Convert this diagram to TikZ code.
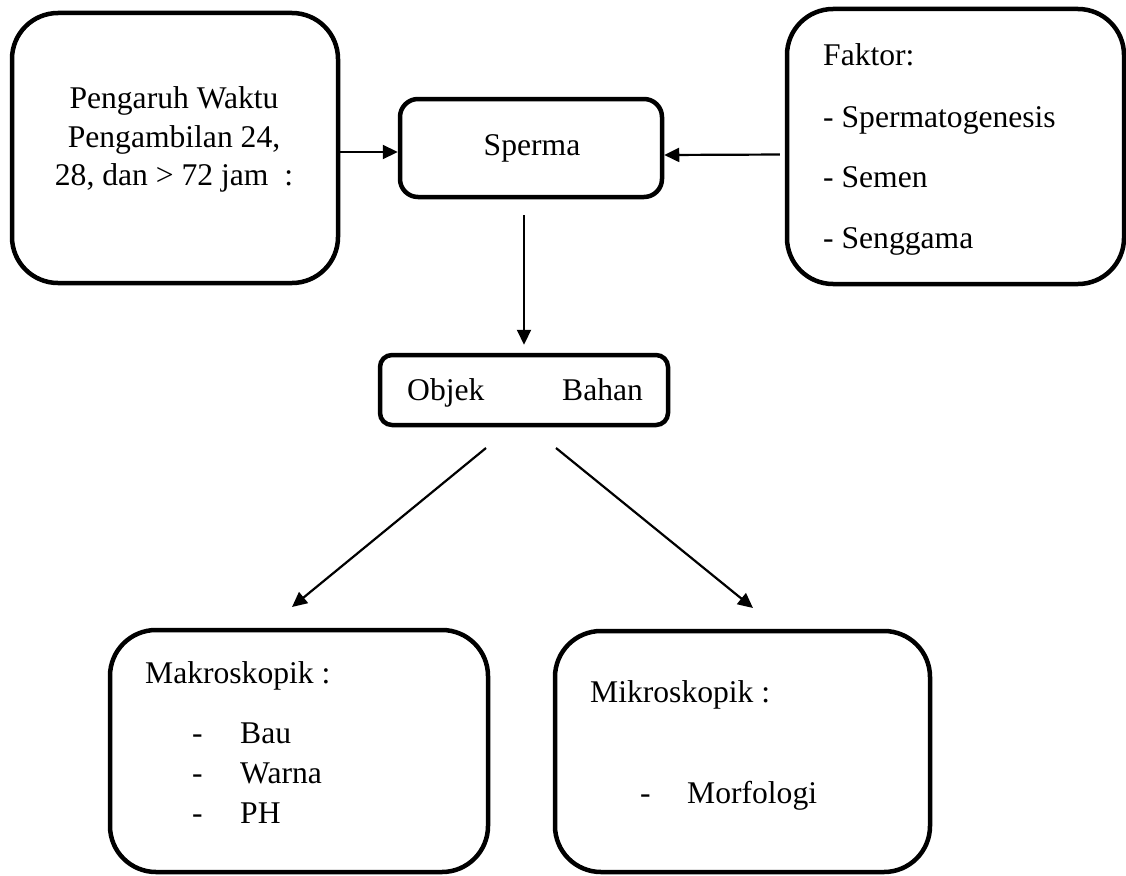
\documentclass[tikz,border=0pt]{standalone}
\usepackage{fontspec}
\setmainfont{Liberation Serif}
\usetikzlibrary{arrows.meta}
\begin{document}
\begin{tikzpicture}[x=1pt,y=-1pt,
  bigbox/.style={draw, line width=4.5pt, rounded corners=46pt, inner sep=0pt},
  smallbox/.style={draw, line width=4.5pt, inner sep=0pt},
  txt/.style={inner sep=0pt, font=\fontsize{31.6}{38}\selectfont},
  arr/.style={line width=2.2pt, -{Triangle[length=15pt,width=14pt]}}]
\useasboundingbox (0,0) rectangle (1126,875);

% boxes
\node[bigbox, minimum width=326pt, minimum height=270pt] (pengaruh) at (175,148) {};
\node[smallbox, rounded corners=18pt, minimum width=262pt, minimum height=98pt] (sperma) at (531,148) {};
\node[bigbox, minimum width=337pt, minimum height=275pt] (faktor) at (955.5,146.5) {};
\node[smallbox, rounded corners=12pt, minimum width=288pt, minimum height=70pt] (objek) at (524,390) {};
\node[bigbox, minimum width=378pt, minimum height=242pt] (makro) at (299,751) {};
\node[bigbox, minimum width=375pt, minimum height=241pt] (mikro) at (742.5,751.5) {};

% texts
\node[txt, anchor=base] (p1) at (174,108) {Pengaruh Waktu};
\node[txt, anchor=base] (p2) at (174,147) {Pengambilan 24,};
\node[txt, anchor=base] (p3) at (174,185) {28, dan > 72 jam\ \ :};

\node[txt, anchor=base] (st) at (532,155) {Sperma};

\node[txt, anchor=base west] (f0) at (823,65) {Faktor:};
\node[txt, anchor=base west] (f1) at (823,127) {- Spermatogenesis};
\node[txt, anchor=base west] (f2) at (823,187) {- Semen};
\node[txt, anchor=base west] (f3) at (823,248) {- Senggama};

\node[txt, anchor=base west] (o1) at (407,400) {Objek};
\node[txt, anchor=base west] (o2) at (562,400) {Bahan};

\node[txt, anchor=base west] (m0) at (145,683) {Makroskopik :};
\node[txt, anchor=base west] (md1) at (192,743) {-};
\node[txt, anchor=base west] (m1) at (240,743) {Bau};
\node[txt, anchor=base west] (md2) at (192,783) {-};
\node[txt, anchor=base west] (m2) at (240,783) {Warna};
\node[txt, anchor=base west] (md3) at (192,823) {-};
\node[txt, anchor=base west] (m3) at (240,823) {PH};

\node[txt, anchor=base west] (k0) at (590,702) {Mikroskopik :};
\node[txt, anchor=base west] (kd1) at (640,803) {-};
\node[txt, anchor=base west] (k1) at (687,803) {Morfologi};

% connectors
\draw[arr] ([yshift=-4pt]pengaruh.east) -- ([yshift=-4pt]sperma.west);
\draw[arr, shorten <=5pt] ([yshift=-8pt]faktor.west) -- ([yshift=-7pt]sperma.east);
\draw[arr, shorten <=16pt, shorten >=8pt] (sperma.south -| objek.north) -- (objek.north);

\coordinate (la) at (486,448);
\coordinate (lb) at (292,607);
\coordinate (ra) at (556,448);
\coordinate (rb) at (753,608);
\draw[arr] (la) -- (lb);
\draw[arr] (ra) -- (rb);
\end{tikzpicture}
\end{document}
